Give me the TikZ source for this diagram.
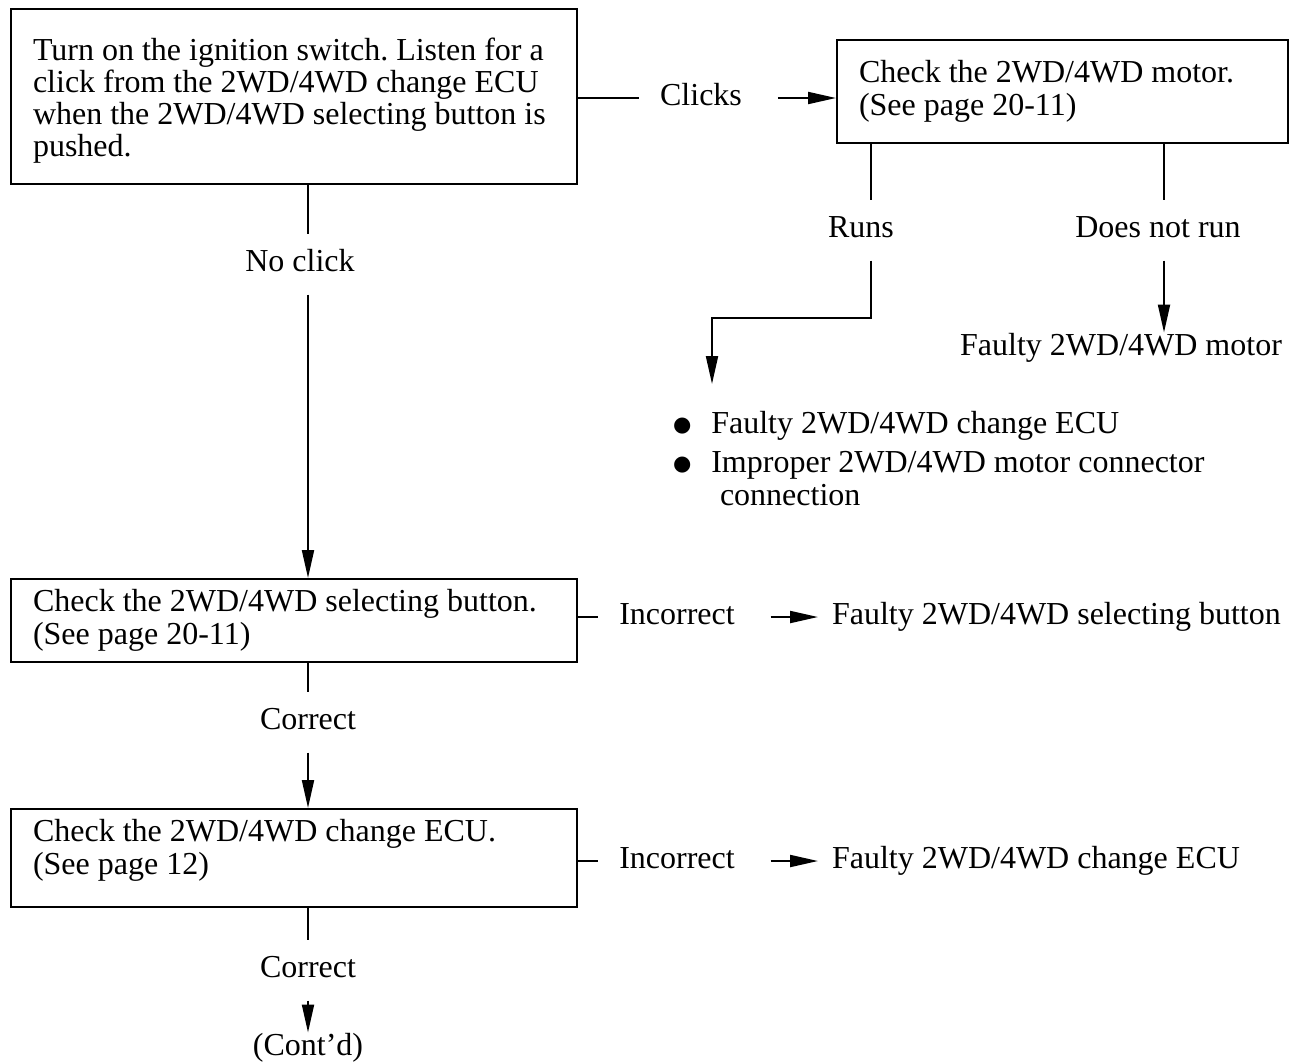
\documentclass[tikz,border=0pt]{standalone}
\usepackage{fontspec}
\setmainfont{Liberation Serif}
\newfontfamily\symboles{DejaVu Sans}
\usetikzlibrary{arrows.meta,positioning}
\frenchspacing

\begin{document}
\begin{tikzpicture}[x=1pt, y=-1pt, line width=2pt,
  >={Triangle[length=28pt,width=12pt]},
  every node/.style={font=\fontsize{32}{33}\selectfont}]
% cases, libelles des branches et diagnostics
\tikzset{boite/.style={draw, line width=2pt, anchor=north west, align=flush left, inner xsep=22pt, inner ysep=0pt},
  libelle/.style={inner xsep=20pt, inner ysep=15pt, text height=22pt, text depth=7pt},
  resultat/.style={inner sep=0pt, text height=22pt, text depth=7pt}}
\newcommand{\puce}{\raisebox{2pt}{\symboles\fontsize{21}{21}\selectfont ●}}
\useasboundingbox (0,0) rectangle (1297,1061);
\coordinate (axe) at (308,0);
\coordinate (axeA) at (871,0);
\coordinate (axeB) at (1164,0);

\node[boite, text width=522pt, minimum height=175pt, font=\fontsize{32}{32}\selectfont] (contact) at (10,8) {\rule{0pt}{30pt}Turn on the ignition switch. Listen for a\\click from the 2WD/4WD change ECU\\when the 2WD/4WD selecting button is\\pushed.};
\node[boite, text width=407pt, minimum height=103pt] (moteur) at (836,39) {Check the 2WD/4WD motor.\\(See page 20-11)\rule[-6pt]{0pt}{0pt}};
\node[boite, text width=522pt, minimum height=83pt] (bouton) at (10,578) {Check the 2WD/4WD selecting button.\\(See page 20-11)};
\node[boite, text width=522pt, minimum height=98pt] (ecu) at (10,808) {Check the 2WD/4WD change ECU.\\(See page 12)\rule[-22pt]{0pt}{0pt}};

% branche Clicks
\node[libelle] (clic) at (701,98) {Clicks};
\draw (contact.east |- clic) -- (clic.west);
\draw[->, shorten <=15pt] (clic.east) -- (moteur.west |- clic);

% essai du moteur
\node[libelle] (tourne) at (861,230) {Runs};
\node[libelle] (tournepas) at (1158,230) {Does not run};
\draw (axeA |- moteur.south) -- (axeA |- tourne.north);
\draw (axeB |- moteur.south) -- (axeB |- tournepas.north);
\node[resultat] (fautemoteur) at (1121,348) {Faulty 2WD/4WD motor};
\draw[->] (axeB |- tournepas.south) -- (axeB |- fautemoteur.north);
\coordinate (coude) at (712,318);
\coordinate (pointe) at (712,384);
\node[anchor=north west, inner sep=0pt, align=flush left] (liste) at (672,410)
  {\puce\hspace{20pt}Faulty 2WD/4WD change ECU\\[6pt]
   \puce\hspace{20pt}Improper 2WD/4WD motor connector\\
   \hspace{47pt}connection};
\draw[->] (axeA |- tourne.south) -- (axeA |- coude) -- (coude) -- (pointe);

% branche No click
\node[libelle] (sansclic) at (300,264) {No click};
\draw (axe |- contact.south) -- (axe |- sansclic.north);
\draw[->] (axe |- sansclic.south) -- (axe |- bouton.north);

% bouton de selection
\node[libelle] (incorrect1) at (677,617) {Incorrect};
\node[resultat, anchor=west] (fautebouton) at (831,617) {Faulty 2WD/4WD selecting button};
\draw (bouton.east |- incorrect1) -- (incorrect1.west);
\draw[->, shorten <=15pt, shorten >=13pt] (incorrect1.east) -- (fautebouton.west);
\node[libelle] (correct1) at (308,722) {Correct};
\draw (axe |- bouton.south) -- (axe |- correct1.north);
\draw[->] (axe |- correct1.south) -- (axe |- ecu.north);

% ECU
\node[libelle] (incorrect2) at (677,861) {Incorrect};
\node[resultat, anchor=west] (fauteecu) at (831,861) {Faulty 2WD/4WD change ECU};
\draw (ecu.east |- incorrect2) -- (incorrect2.west);
\draw[->, shorten <=15pt, shorten >=13pt] (incorrect2.east) -- (fauteecu.west);
\node[libelle] (correct2) at (308,970) {Correct};
\node[resultat] (suite) at (308,1048) {(Cont'd)};
\draw (axe |- ecu.south) -- (axe |- correct2.north);
\draw[->] (axe |- correct2.south) -- (axe |- suite.north);
\end{tikzpicture}
\end{document}
